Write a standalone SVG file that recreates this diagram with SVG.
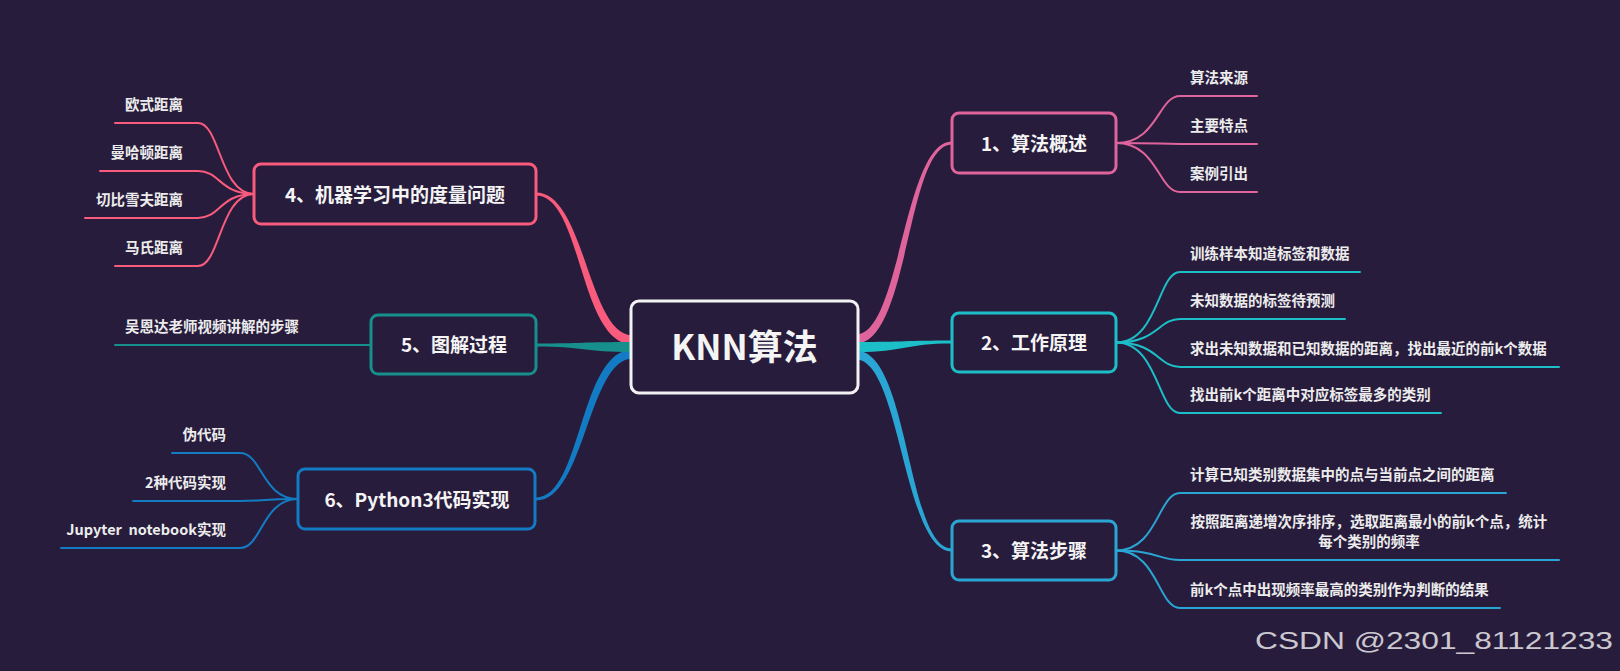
<svg xmlns="http://www.w3.org/2000/svg" width="1620" height="671" viewBox="0 0 1620 671">
<style>
.bg{fill:#281c3c}
.box{fill:#281c3c;stroke-width:3}
.ntext{font-family:"Noto Sans CJK SC","Noto Sans",sans-serif;font-size:19px;font-weight:700;fill:#f4f4f4;text-anchor:middle}
.lbl{font-family:"Noto Sans CJK SC","Noto Sans",sans-serif;font-size:14.5px;font-weight:600;fill:#ececec}
.sub{fill:none;stroke-width:2;stroke-linecap:round}
.c1{stroke:#df649c}.c2{stroke:#1cbfc8}.c3{stroke:#2aa6d5}.c4{stroke:#f95b7d}.c5{stroke:#168f8d}.c6{stroke:#127bc3}
.f1{fill:#df649c}.f2{fill:#1cbfc8}.f3{fill:#2aa6d5}.f4{fill:#f95b7d}.f5{fill:#168f8d}.f6{fill:#127bc3}
</style>
<rect class="bg" x="0" y="0" width="1620" height="671"/>
<g id="connectors">
  <path class="f1" d="M856,334.5 C900.5,334.5 903.5,141.5 952,141.5 L952,144.5 C906.5,144.5 909.5,343.5 856,343.5 Z"/>
  <path class="f2" d="M856,342 C905,342 905,340.5 952,340.5 L952,343.5 C905,343.5 905,352 856,352 Z"/>
  <path class="f3" d="M856,350.5 C909.5,350.5 906.5,548.5 952,548.5 L952,551.5 C903.5,551.5 900.5,359.5 856,359.5 Z"/>
  <path class="f4" d="M633,335.5 C588,335.5 585,192.5 536,192.5 L536,195.5 C582,195.5 579,344.5 633,344.5 Z"/>
  <path class="f6" d="M633,349.5 C579,349.5 582,497.5 536,497.5 L536,500.5 C585,500.5 588,358.5 633,358.5 Z"/>
  <path class="f5" d="M633,342 C583,342 583,343.5 536,343.5 L536,346.5 C583,346.5 583,352 633,352 Z"/>
  <path class="sub c1" d="M1116,143 C1158,143 1158,96 1180,96 L1257,96"/>
  <path class="sub c1" d="M1116,143 C1158,143 1158,144 1180,144 L1257,144"/>
  <path class="sub c1" d="M1116,143 C1158,143 1158,192 1180,192 L1257,192"/>
  <path class="sub c2" d="M1116,342.5 C1158,342.5 1158,272 1180,272 L1360,272"/>
  <path class="sub c2" d="M1116,342.5 C1158,342.5 1158,319 1180,319 L1345,319"/>
  <path class="sub c2" d="M1116,342.5 C1158,342.5 1158,367 1180,367 L1559,367"/>
  <path class="sub c2" d="M1116,342.5 C1158,342.5 1158,413 1180,413 L1441,413"/>
  <path class="sub c3" d="M1116,550.5 C1158,550.5 1158,493 1180,493 L1506,493"/>
  <path class="sub c3" d="M1116,550.5 C1158,550.5 1158,560 1180,560 L1559,560"/>
  <path class="sub c3" d="M1116,550.5 C1158,550.5 1158,608 1180,608 L1500,608"/>
  <path class="sub c4" d="M254,194 C220,194 220,123 198,123 L115,123"/>
  <path class="sub c4" d="M254,194 C220,194 220,171 198,171 L100,171"/>
  <path class="sub c4" d="M254,194 C220,194 220,218 198,218 L85,218"/>
  <path class="sub c4" d="M254,194 C220,194 220,266 198,266 L115,266"/>
  <path class="sub c5" d="M371,345 L115,345"/>
  <path class="sub c6" d="M298,499 C262,499 262,453 240,453 L172,453"/>
  <path class="sub c6" d="M298,499 C262,499 262,501 240,501 L133,501"/>
  <path class="sub c6" d="M298,499 C262,499 262,548 240,548 L61,548"/>
</g>
<g id="root">
  <rect class="box" x="631" y="301" width="227" height="92" rx="8" stroke="#f2f2f2"/>
  <text x="744.5" y="360" font-family="'Noto Sans CJK SC','Noto Sans',sans-serif" font-size="35" font-weight="700" fill="#f4f4f4" text-anchor="middle">KNN算法</text>
</g>
<g id="node1">
  <rect class="box c1" x="952" y="113" width="164" height="60" rx="7"/>
  <text class="ntext" x="1034" y="151">1、算法概述</text>
  <text class="lbl" x="1190" y="83">算法来源</text>
  <text class="lbl" x="1190" y="131">主要特点</text>
  <text class="lbl" x="1190" y="179">案例引出</text>
</g>
<g id="node2">
  <rect class="box c2" x="952" y="313" width="164" height="59" rx="7"/>
  <text class="ntext" x="1034" y="350">2、工作原理</text>
  <text class="lbl" x="1190" y="259">训练样本知道标签和数据</text>
  <text class="lbl" x="1190" y="306">未知数据的标签待预测</text>
  <text class="lbl" x="1190" y="354">求出未知数据和已知数据的距离，找出最近的前k个数据</text>
  <text class="lbl" x="1190" y="400">找出前k个距离中对应标签最多的类别</text>
</g>
<g id="node3">
  <rect class="box c3" x="952" y="521" width="164" height="59" rx="7"/>
  <text class="ntext" x="1034" y="558">3、算法步骤</text>
  <text class="lbl" x="1190" y="480">计算已知类别数据集中的点与当前点之间的距离</text>
  <text class="lbl" x="1369" y="527" text-anchor="middle">按照距离递增次序排序，选取距离最小的前k个点，统计</text>
  <text class="lbl" x="1369" y="547" text-anchor="middle">每个类别的频率</text>
  <text class="lbl" x="1190" y="595">前k个点中出现频率最高的类别作为判断的结果</text>
</g>
<g id="node4">
  <rect class="box c4" x="254" y="164" width="282" height="60" rx="7"/>
  <text class="ntext" x="395" y="202">4、机器学习中的度量问题</text>
  <text class="lbl" x="183" y="110" text-anchor="end">欧式距离</text>
  <text class="lbl" x="183" y="158" text-anchor="end">曼哈顿距离</text>
  <text class="lbl" x="183" y="205" text-anchor="end">切比雪夫距离</text>
  <text class="lbl" x="183" y="253" text-anchor="end">马氏距离</text>
</g>
<g id="node5">
  <rect class="box c5" x="371" y="315" width="165" height="59" rx="7"/>
  <text class="ntext" x="454" y="352">5、图解过程</text>
  <text class="lbl" x="125" y="332">吴恩达老师视频讲解的步骤</text>
</g>
<g id="node6">
  <rect class="box c6" x="298" y="469" width="237" height="60" rx="7"/>
  <text class="ntext" x="417" y="507">6、Python3代码实现</text>
  <text class="lbl" x="226" y="440" text-anchor="end">伪代码</text>
  <text class="lbl" x="226" y="488" text-anchor="end">2种代码实现</text>
  <text class="lbl" x="226" y="535" text-anchor="end" xml:space="preserve" style="white-space:pre">Jupyter  notebook实现</text>
</g>
<text x="1255" y="649" font-family="'Liberation Sans',Arial,sans-serif" font-size="24.5" fill="#cbc8d0" textLength="358" lengthAdjust="spacingAndGlyphs">CSDN @2301_81121233</text>
</svg>
